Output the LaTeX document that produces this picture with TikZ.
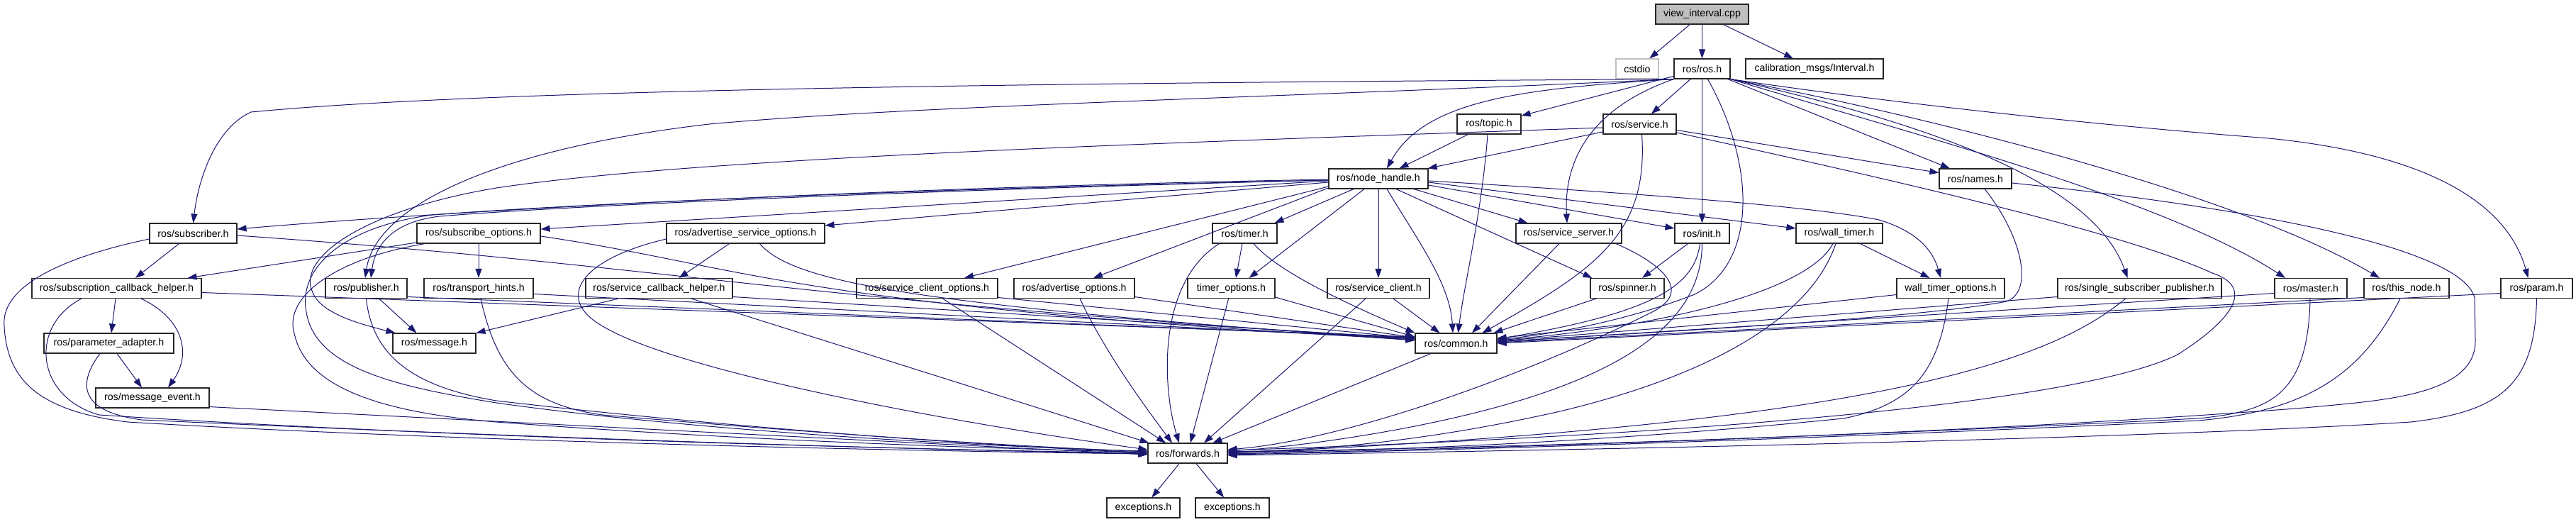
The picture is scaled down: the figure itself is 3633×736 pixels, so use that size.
\documentclass[tikz,border=0pt]{standalone}
\usepackage{fontspec}
\setmainfont{Liberation Sans}
\usetikzlibrary{arrows.meta}
\definecolor{edgecol}{HTML}{191970}
\definecolor{nodegray}{HTML}{BFBFBF}
\begin{document}
\begin{tikzpicture}[x=1pt,y=-1pt,
  box/.style={draw=black!85, line width=1.1pt, fill=white, minimum height=28pt, inner sep=0pt,
    font=\fontsize{14.2pt}{17pt}\selectfont},
  edge/.style={draw=edgecol, line width=1pt, -{Triangle[length=13pt,width=9pt]}}]
\fill[white] (0,0) rectangle (3633,736);
\useasboundingbox (0,0) rectangle (3633,736);
% row 0
\node[box, fill=nodegray, minimum width=131pt] (vi) at (2400.5,20) {view\_interval.cpp};
% row 1
\node[box, draw=nodegray, minimum width=60pt] (cstdio) at (2309,97) {cstdio};
\node[box, minimum width=79pt] (ros) at (2400.5,97) {ros/ros.h};
\node[box, minimum width=194pt] (calib) at (2559,97) {calibration\_msgs/Interval.h};
% row 2
\node[box, minimum width=90pt] (topic) at (2100,175) {ros/topic.h};
\node[box, minimum width=103pt] (service) at (2312.5,175) {ros/service.h};
% row 3
\node[box, minimum width=140pt] (nh) at (1944,252) {ros/node\_handle.h};
\node[box, minimum width=102pt] (names) at (2786,252) {ros/names.h};
% row 4
\node[box, minimum width=123pt] (subscriber) at (272.5,329) {ros/subscriber.h};
\node[box, minimum width=174pt] (subopts) at (675,329) {ros/subscribe\_options.h};
\node[box, minimum width=223pt] (asopts) at (1051.5,329) {ros/advertise\_service\_options.h};
\node[box, minimum width=91pt] (timer) at (1755.5,329) {ros/timer.h};
\node[box, minimum width=149pt] (sserver) at (2212.5,329) {ros/service\_server.h};
\node[box, minimum width=77pt] (init) at (2400.5,329) {ros/init.h};
\node[box, minimum width=122pt] (wtimer) at (2594,329) {ros/wall\_timer.h};
% row 5
\node[box, minimum width=239pt] (sch) at (164.5,406.5) {ros/subscription\_callback\_helper.h};
\node[box, minimum width=115pt] (publisher) at (516.5,406.5) {ros/publisher.h};
\node[box, minimum width=154pt] (thints) at (675,406.5) {ros/transport\_hints.h};
\node[box, minimum width=207pt] (schelper) at (929.5,406.5) {ros/service\_callback\_helper.h};
\node[box, minimum width=199pt] (scopts) at (1307.5,406.5) {ros/service\_client\_options.h};
\node[box, minimum width=170pt] (aopts) at (1515,406.5) {ros/advertise\_options.h};
\node[box, minimum width=123pt] (topts) at (1736.5,406.5) {timer\_options.h};
\node[box, minimum width=144pt] (sclient) at (1944,406.5) {ros/service\_client.h};
\node[box, minimum width=104pt] (spinner) at (2295,406.5) {ros/spinner.h};
\node[box, minimum width=152pt] (wtopts) at (2751,406.5) {wall\_timer\_options.h};
\node[box, minimum width=231pt] (ssp) at (3017.5,406.5) {ros/single\_subscriber\_publisher.h};
\node[box, minimum width=102pt] (master) at (3259,406.5) {ros/master.h};
\node[box, minimum width=120pt] (thisnode) at (3394,406.5) {ros/this\_node.h};
\node[box, minimum width=101pt] (param) at (3577.5,406.5) {ros/param.h};
% row 6
\node[box, minimum width=183pt] (padapter) at (153.5,484) {ros/parameter\_adapter.h};
\node[box, minimum width=117pt] (message) at (612.5,484) {ros/message.h};
\node[box, minimum width=115pt] (common) at (2053.5,484) {ros/common.h};
% row 7
\node[box, minimum width=160pt] (mevent) at (215,561) {ros/message\_event.h};
% row 8
\node[box, minimum width=112pt] (forwards) at (1675,639) {ros/forwards.h};
% row 9
\node[box, minimum width=103pt] (exc1) at (1612.5,716) {exceptions.h};
\node[box, minimum width=104pt] (exc2) at (1738,716) {exceptions.h};

% ---------- edges ----------
% view_interval.cpp
\draw[edge] (vi) -- (cstdio);
\draw[edge] (vi) -- (ros);
\draw[edge] (vi) -- (calib);
% ros.h
\draw[edge] (ros.south west) .. controls (1500,117) and (700,125) .. (354,158) .. controls (305,180) and (280,250) .. (subscriber.north);
\draw[edge] (ros.south west) .. controls (1800,138) and (1300,148) .. (1000,175) .. controls (700,210) and (530,290) .. ([xshift=-1.5pt]publisher.north);
\draw[edge] (ros.south west) .. controls (2150,125) and (2010,140) .. ([xshift=12pt]nh.north);
\draw[edge] (ros) -- (topic);
\draw[edge] (ros) -- (service);
\draw[edge] (ros.south west) .. controls (2250,150) and (2205,220) .. ([xshift=-2.5pt]sserver.north);
\draw[edge] (ros) -- (init);
\draw[edge] ([xshift=8pt]ros.south) .. controls (2475,230) and (2480,370) .. (2390,415) .. controls (2300,450) and (2200,470) .. ([yshift=5pt]common.east);
\draw[edge] (ros) -- (names);
\draw[edge] (ros.south east) .. controls (2700,170) and (2950,250) .. ([xshift=-17pt]ssp.north);
\draw[edge] (ros.south east) .. controls (2700,190) and (3050,280) .. ([xshift=-36pt]master.north);
\draw[edge] (ros.south east) .. controls (2700,160) and (3150,270) .. ([xshift=-38pt]thisnode.north);
\draw[edge] (ros.south east) .. controls (2700,150) and (3000,180) .. (3200,195) .. controls (3450,220) and (3540,300) .. ([xshift=-12pt]param.north);
% node_handle.h
\draw[edge] ([yshift=-1pt]nh.west) .. controls (1200,265) and (600,300) .. ([yshift=6pt]subscriber.east);
\draw[edge] ([yshift=-3pt]nh.west) -- ([yshift=6pt]subopts.east);
\draw[edge] ([yshift=-5pt]nh.west) -- ([yshift=11pt]asopts.east);
\draw[edge] ([yshift=-2pt]nh.west) .. controls (1300,268) and (800,290) .. (620,305) .. controls (560,312) and (530,340) .. ([xshift=6.5pt]publisher.north);
\draw[edge] ([yshift=-2pt]nh.west) .. controls (1300,266) and (800,288) .. (610,303) .. controls (480,320) and (420,380) .. (432,440) .. controls (445,520) and (560,545) .. (700,568) .. controls (1000,610) and (1400,630) .. ([yshift=3pt]forwards.west);
\draw[edge] ([yshift=-11pt]nh.west) -- ([xshift=52.5pt]scopts.north);
\draw[edge] ([yshift=-13pt]nh.west) -- ([xshift=27pt]aopts.north);
\draw[edge] ([xshift=-35pt]nh.south) -- ([xshift=-4pt]timer.north east);
\draw[edge] ([xshift=-20pt]nh.south) -- ([xshift=25pt]topts.north);
\draw[edge] (nh) -- (sclient);
\draw[edge] ([xshift=12pt]nh.south) .. controls (2000,340) and (2045,400) .. ([xshift=-4.5pt]common.north);
\draw[edge] ([xshift=25pt]nh.south) -- ([xshift=3pt]spinner.north west);
\draw[edge] ([xshift=50pt]nh.south) -- ([xshift=-58pt]sserver.north);
\draw[edge] ([yshift=-9pt]nh.east) -- ([yshift=7pt]init.west);
\draw[edge] ([yshift=-5pt]nh.east) -- ([yshift=7pt]wtimer.west);
\draw[edge] ([yshift=-3pt]nh.east) .. controls (2300,272) and (2550,290) .. (2650,310) .. controls (2700,325) and (2725,350) .. ([xshift=-14pt]wtopts.north);
% topic.h
\draw[edge] (topic) -- (nh);
\draw[edge] ([xshift=-2pt]topic.south) .. controls (2090,300) and (2065,400) .. ([xshift=3pt]common.north);
% service.h
\draw[edge] (service) -- (nh);
\draw[edge] (service) -- (names);
\draw[edge] ([xshift=3pt]service.south) .. controls (2325,330) and (2250,380) .. ([xshift=37pt]common.north);
\draw[edge] ([yshift=-5pt]service.west) .. controls (1700,200) and (1000,220) .. (700,265) .. controls (520,295) and (420,360) .. (440,410) .. controls (450,440) and (500,455) .. ([xshift=4pt]message.north west);
\draw[edge] ([yshift=-12pt]service.east) .. controls (2700,260) and (3000,330) .. (3120,385) .. controls (3180,405) and (3150,450) .. (3071,500) .. controls (2950,560) and (2500,610) .. ([yshift=4pt]forwards.east);
% names.h
\draw[edge] ([xshift=13pt]names.south) .. controls (2850,330) and (2870,410) .. (2830,425) .. controls (2700,450) and (2300,470) .. ([yshift=2pt]common.east);
\draw[edge] ([yshift=-6pt]names.east) .. controls (3100,285) and (3470,340) .. (3490,420) -- (3491,480) .. controls (3492,560) and (3350,565) .. (3250,575) .. controls (2800,610) and (2200,630) .. ([yshift=2pt]forwards.east);
% subscriber.h
\draw[edge] ([xshift=-20pt]subscriber.south) -- ([xshift=26.5pt]sch.north);
\draw[edge] ([yshift=-8pt]subscriber.west) .. controls (100,360) and (0,400) .. (6,460) .. controls (10,540) and (60,580) .. (180,595) .. controls (600,620) and (1200,635) .. ([yshift=-1pt]forwards.west);
\draw[edge] ([yshift=-3pt]subscriber.east) .. controls (950,375) and (1080,420) .. ([yshift=6pt]common.west);
% subscribe_options.h
\draw[edge] (subopts) -- (thints);
\draw[edge] ([yshift=-13pt]subopts.west) -- ([xshift=100pt]sch.north);
\draw[edge] ([yshift=-4pt]subopts.east) .. controls (1050,375) and (1100,430) .. ([yshift=5pt]common.west);
\draw[edge] ([xshift=12pt]subopts.south west) .. controls (470,365) and (400,420) .. (415,470) .. controls (430,540) and (520,580) .. (700,595) .. controls (1100,625) and (1450,633) .. ([yshift=1pt]forwards.west);
% advertise_service_options.h
\draw[edge] ([xshift=-23pt]asopts.south) -- ([xshift=28pt]schelper.north);
\draw[edge] ([xshift=20pt]asopts.south) .. controls (1120,400) and (1300,430) .. ([yshift=4pt]common.west);
\draw[edge] ([yshift=-8pt]asopts.west) .. controls (820,365) and (780,420) .. (850,460) .. controls (950,520) and (1300,590) .. ([yshift=5pt]forwards.west);
% timer.h
\draw[edge] ([xshift=-3.5pt]timer.south) -- ([xshift=6.5pt]topts.north);
\draw[edge] ([xshift=12.5pt]timer.south) .. controls (1800,380) and (1880,420) .. (common.north west);
\draw[edge] ([xshift=-36pt]timer.south) .. controls (1630,400) and (1640,550) .. ([xshift=-12pt]forwards.north);
% timer_options.h
\draw[edge] ([yshift=2pt]topts.south east) -- ([yshift=9pt]common.west);
\draw[edge] (topts) -- (forwards);
% service_client.h
\draw[edge] ([xshift=21pt]sclient.south) -- ([xshift=-23pt]common.north);
\draw[edge] ([xshift=-18pt]sclient.south) -- ([xshift=23pt]forwards.north);
% service_client_options.h
\draw[edge] ([xshift=22pt]scopts.south) -- ([xshift=-31pt]forwards.north);
\draw[edge] ([yshift=-13pt]scopts.east) -- ([yshift=7pt]common.west);
% advertise_options.h
\draw[edge] ([xshift=8pt]aopts.south) .. controls (1560,500) and (1620,580) .. ([xshift=-22pt]forwards.north);
\draw[edge] ([yshift=-12pt]aopts.east) -- ([yshift=8pt]common.west);
% service_callback_helper.h
\draw[edge] ([xshift=-57.5pt]schelper.south) -- (message.north east);
\draw[edge] ([xshift=45.5pt]schelper.south) -- ([xshift=2pt]forwards.north west);
\draw[edge] ([yshift=-12pt]schelper.east) -- ([yshift=7pt]common.west);
% transport_hints.h
\draw[edge] ([yshift=-8pt]thints.east) -- ([yshift=6pt]common.west);
\draw[edge] ([xshift=3pt]thints.south) .. controls (700,520) and (740,570) .. (850,585) .. controls (1200,615) and (1450,630) .. ([yshift=2pt]forwards.west);
% publisher.h
\draw[edge] ([xshift=18pt]publisher.south) -- ([xshift=-25pt]message.north);
\draw[edge] ([yshift=-12pt]publisher.east) -- ([yshift=8pt]common.west);
\draw[edge] (publisher.south) .. controls (525,500) and (580,545) .. (700,565) .. controls (1000,600) and (1400,630) .. ([yshift=1pt]forwards.west);
% subscription_callback_helper.h
\draw[edge] ([xshift=-1.5pt]sch.south) -- ([xshift=3.5pt]padapter.north);
\draw[edge] ([xshift=34.5pt]sch.south) .. controls (260,450) and (270,500) .. ([xshift=22pt]mevent.north);
\draw[edge] ([xshift=-49.5pt]sch.south) .. controls (40,460) and (50,560) .. (140,585) .. controls (600,615) and (1200,632) .. (forwards.west);
\draw[edge] ([yshift=-6pt]sch.east) -- ([yshift=9pt]common.west);
% parameter_adapter.h
\draw[edge] ([xshift=11.5pt]padapter.south) -- ([xshift=-15pt]mevent.north);
\draw[edge] ([xshift=-12.5pt]padapter.south) .. controls (110,540) and (110,580) .. (200,592) .. controls (700,615) and (1200,632) .. ([yshift=-1pt]forwards.west);
% message_event.h
\draw[edge] ([yshift=2pt]mevent.south east) -- ([yshift=-2pt]forwards.west);
% spinner.h
\draw[edge] ([xshift=-44pt]spinner.south) -- ([xshift=53pt]common.north);
% service_server.h
\draw[edge] ([xshift=-13.5pt]sserver.south) -- ([xshift=22.5pt]common.north);
\draw[edge] ([xshift=66.5pt]sserver.south) .. controls (2340,370) and (2390,410) .. (2330,440) .. controls (2150,530) and (1900,620) .. ([yshift=5pt]forwards.east);
% init.h
\draw[edge] ([xshift=-20pt]init.south) -- ([xshift=21pt]spinner.north);
\draw[edge] ([xshift=-3pt]init.south) .. controls (2390,400) and (2340,440) .. ([yshift=6pt]common.east);
\draw[edge] (init.south) .. controls (2400,450) and (2300,540) .. (2000,600) .. controls (1900,620) and (1800,632) .. ([yshift=3pt]forwards.east);
% wall_timer.h
\draw[edge] (wtimer) -- (wtopts);
\draw[edge] ([xshift=-9pt]wtimer.south) .. controls (2550,410) and (2350,460) .. ([yshift=4pt]common.east);
\draw[edge] ([xshift=-5pt]wtimer.south) .. controls (2560,430) and (2450,520) .. (2200,580) .. controls (2000,625) and (1850,635) .. ([yshift=2pt]forwards.east);
% wall_timer_options.h
\draw[edge] ([yshift=-9pt]wtopts.west) -- ([yshift=7pt]common.east);
\draw[edge] ([xshift=-3pt]wtopts.south) .. controls (2735,520) and (2700,570) .. (2600,590) .. controls (2300,620) and (2000,635) .. ([yshift=1pt]forwards.east);
% single_subscriber_publisher.h
\draw[edge] ([yshift=-12pt]ssp.west) -- ([yshift=3pt]common.east);
\draw[edge] ([xshift=-20pt]ssp.south) .. controls (2880,520) and (2600,600) .. (forwards.east);
% master.h
\draw[edge] ([yshift=-7pt]master.west) -- ([yshift=2pt]common.east);
\draw[edge] ([xshift=-1pt]master.south) .. controls (3255,560) and (3200,580) .. (3100,590) .. controls (2500,620) and (2000,635) .. ([yshift=-1pt]forwards.east);
% this_node.h
\draw[edge] ([yshift=-13pt]thisnode.west) -- ([yshift=1pt]common.east);
\draw[edge] ([xshift=-9pt]thisnode.south) .. controls (3330,530) and (3250,580) .. (3100,593) .. controls (2500,622) and (2000,636) .. ([yshift=-2pt]forwards.east);
% param.h
\draw[edge] ([yshift=-7pt]param.west) -- (common.east);
\draw[edge] (param.south) .. controls (3575,540) and (3530,580) .. (3400,595) .. controls (3000,620) and (2200,635) .. ([yshift=-3pt]forwards.east);
% common.h
\draw[edge] (common) -- (forwards);
% forwards.h
\draw[edge] (forwards) -- (exc1);
\draw[edge] (forwards) -- (exc2);
\end{tikzpicture}
\end{document}
